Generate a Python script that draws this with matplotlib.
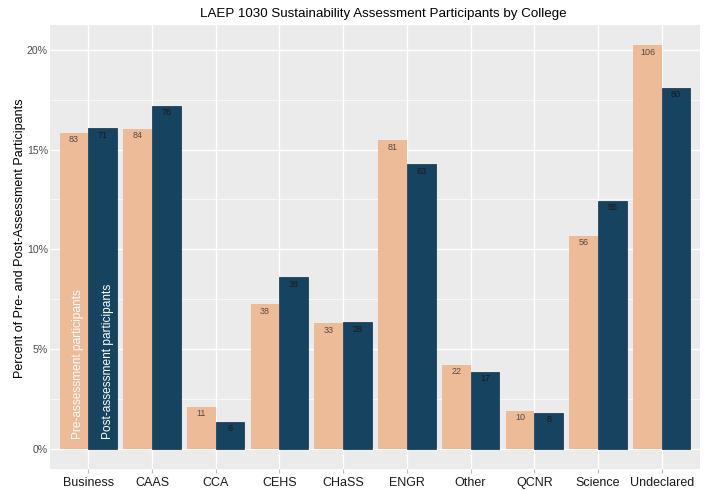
import numpy as np
import matplotlib
matplotlib.use("Agg")
import matplotlib.pyplot as plt
from matplotlib.ticker import FuncFormatter, MultipleLocator

# Data: participant counts per college
colleges = ['Business', 'CAAS', 'CCA', 'CEHS', 'CHaSS', 'ENGR', 'Other', 'QCNR', 'Science', 'Undeclared']
pre_counts = [83, 84, 11, 38, 33, 81, 22, 10, 56, 106]
post_counts = [71, 76, 6, 38, 28, 63, 17, 8, 55, 80]

pre_color = '#EDBB98'
post_color = '#16435F'

plt.rcParams['font.family'] = ['Liberation Sans', 'DejaVu Sans']

pre = np.array(pre_counts)
post = np.array(post_counts)
pre_pct = pre / pre.sum() * 100
post_pct = post / post.sum() * 100

fig = plt.figure(figsize=(7.18, 4.90), dpi=100)
ax = fig.add_axes([50 / 718, 21 / 490, 650 / 718, 444 / 490])
ax.set_facecolor('#EBEBEB')

x = np.arange(len(colleges)) + 1
w = 0.45
ax.bar(x - w / 2, pre_pct, w, color=pre_color, zorder=3)
ax.bar(x + w / 2, post_pct, w, color=post_color, edgecolor='#0E2F45', linewidth=0.5, zorder=3)

# count labels inside top of bars
for xi, p, c in zip(x, pre_pct, pre):
    ax.text(xi - w / 2, p - 0.12, str(c), ha='center', va='top', fontsize=6.5, color='#5A4A40', zorder=4)
for xi, p, c in zip(x, post_pct, post):
    ax.text(xi + w / 2, p - 0.12, str(c), ha='center', va='top', fontsize=6.5, color='#1A1A1A', zorder=4)

# series names written inside the first pair of bars
ax.text(x[0] - w / 2 + 0.06, 0.5, 'Pre-assessment participants', rotation=90, ha='center', va='bottom',
        fontsize=8.6, color='white', zorder=4)
ax.text(x[0] + w / 2 + 0.08, 0.5, 'Post-assessment participants', rotation=90, ha='center', va='bottom',
        fontsize=8.6, color='white', zorder=4)

ymax = max(pre_pct.max(), post_pct.max())
pad = 0.05 * ymax
ax.set_ylim(-pad, ymax + pad)
ax.set_xlim(0.4, len(colleges) + 0.6)

ax.yaxis.set_major_locator(MultipleLocator(5))
ax.yaxis.set_minor_locator(MultipleLocator(2.5))
ax.yaxis.set_major_formatter(FuncFormatter(lambda v, _: f'{v:.0f}%'))
ax.set_xticks(x)
ax.set_xticklabels(colleges)

ax.grid(which='major', color='white', linewidth=1.0, zorder=0)
ax.grid(which='minor', axis='y', color='white', linewidth=0.5, zorder=0)
ax.set_axisbelow(True)

for s in ax.spines.values():
    s.set_visible(False)
ax.tick_params(axis='x', which='major', length=2.75, color='#BBBBBB', labelsize=9, labelcolor='#1A1A1A', pad=3)
ax.tick_params(axis='y', which='major', length=0, labelsize=7.6, labelcolor='#4D4D4D', pad=1.5)
ax.tick_params(axis='y', which='minor', length=0)

fig.text(20 / 718, 1 - 238 / 490, 'Percent of Pre- and Post-Assessment Participants', rotation=90,
         ha='center', va='center', fontsize=9)
fig.text(383 / 718, 1 - 17.5 / 490, 'LAEP 1030 Sustainability Assessment Participants by College',
         ha='center', va='baseline', fontsize=9.6)

fig.savefig('out.png', dpi=100)
